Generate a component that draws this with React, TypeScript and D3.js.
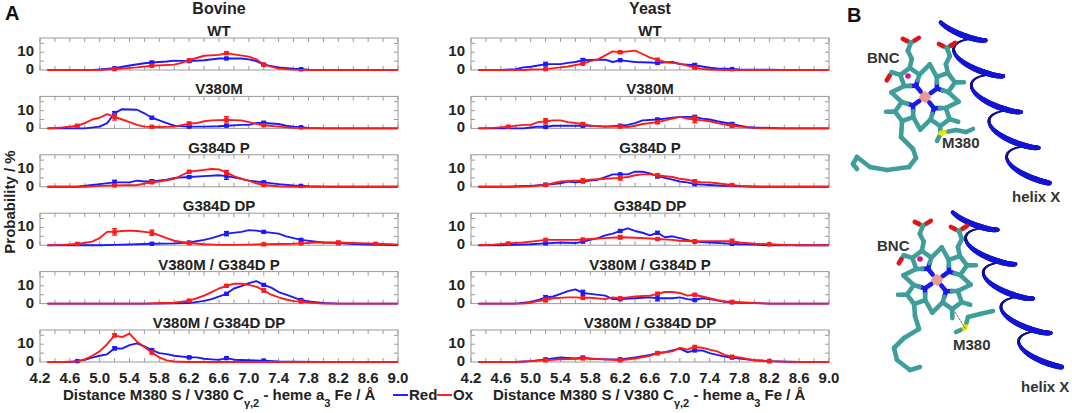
import React from 'react';
import * as d3 from 'd3';

type Pt = [number, number];

// axis ticks and labels
const distTicks = [4.2, 4.6, 5.0, 5.4, 5.8, 6.2, 6.6, 7.0, 7.4, 7.8, 8.2, 8.6, 9.0];
const probTicks = [0, 10];
const markerX = [4.7, 5.2, 5.7, 6.2, 6.7, 7.2, 7.7, 8.2, 8.7];
const panelTitles = ['WT', 'V380M', 'G384D P', 'G384D DP', 'V380M / G384D P', 'V380M / G384D DP'];
const columnTitles = ['Bovine', 'Yeast'];
const seriesNames = ['Red', 'Ox'];

// ---- Bovine: distance (Å) -> probability (%) ----
const bovWtRed: Pt[] = [[4.3,0],[4.9,0],[5.0,0.3],[5.2,1],[5.4,2.5],[5.6,3.8],[5.7,4.2],[5.9,4.8],[6.0,5.3],[6.2,5],[6.4,5.5],[6.6,6.5],[6.7,6.5],[6.9,6.5],[7.0,6],[7.1,5],[7.2,3],[7.4,1.5],[7.6,0.7],[7.8,0.2],[8.0,0],[9.0,0]];
const bovWtOx: Pt[] = [[4.3,0],[5.0,0],[5.2,0.5],[5.5,1.5],[5.7,2.4],[6.0,3],[6.1,4],[6.2,5.5],[6.4,8],[6.6,8.5],[6.7,9.5],[6.8,8.8],[7.0,7.5],[7.1,6],[7.2,3],[7.4,0.8],[7.6,0.2],[7.8,0],[9.0,0]];
const bovV380MRed: Pt[] = [[4.3,0],[4.8,0],[5.0,1],[5.1,3],[5.2,8.5],[5.3,10.8],[5.5,10.5],[5.6,8.5],[5.7,6],[5.8,4.5],[5.9,3],[6.0,1.5],[6.2,1],[6.4,1],[6.6,1.2],[6.7,1.5],[6.9,2],[7.0,2],[7.1,3],[7.2,3],[7.4,2.5],[7.5,1.5],[7.6,1],[7.8,0.3],[8.0,0],[9.0,0]];
const bovV380MOx: Pt[] = [[4.3,0],[4.5,0.5],[4.7,1.5],[4.8,3],[4.9,5],[5.0,6],[5.1,8],[5.2,6.5],[5.3,5],[5.4,3.5],[5.5,2],[5.6,1],[5.8,0.8],[6.0,1],[6.2,2.7],[6.3,3],[6.4,4],[6.5,4.5],[6.7,4.8],[6.9,4.5],[7.0,3.5],[7.2,1.8],[7.4,1],[7.6,0.3],[7.8,0],[9.0,0]];
const bovG384DPRed: Pt[] = [[4.3,0],[4.7,0],[4.9,1],[5.0,1.5],[5.2,2.5],[5.4,2.5],[5.5,3.5],[5.6,3],[5.7,3],[5.9,4],[6.0,5],[6.2,5.5],[6.4,6],[6.6,6.5],[6.7,6],[6.9,4.5],[7.0,3.5],[7.2,2.5],[7.4,1.5],[7.6,0.7],[7.8,0.3],[8.0,0.1],[8.2,0],[9.0,0]];
const bovG384DPOx: Pt[] = [[4.3,0],[4.8,0],[5.0,0.5],[5.2,0.8],[5.5,1],[5.7,2.5],[5.8,3],[6.0,4.5],[6.1,6.5],[6.2,8.5],[6.4,9.5],[6.5,10],[6.6,9.8],[6.7,8],[6.8,6],[6.9,4.5],[7.0,3.5],[7.1,2],[7.2,1],[7.4,0.3],[7.6,0],[9.0,0]];
const bovG384DDPRed: Pt[] = [[4.3,0],[5.0,0],[5.2,0.2],[5.5,0.5],[5.7,0.8],[6.0,1],[6.2,1.5],[6.4,3],[6.5,4],[6.7,6.5],[6.9,7.5],[7.0,8.5],[7.1,8.2],[7.2,7.5],[7.4,6.5],[7.5,5],[7.7,3],[7.9,2],[8.0,1.5],[8.2,1.2],[8.4,0.7],[8.6,0.4],[8.8,0.2],[9.0,0]];
const bovG384DDPOx: Pt[] = [[4.3,0],[4.5,0.2],[4.7,0.7],[4.9,2],[5.0,4],[5.1,7.5],[5.2,7.5],[5.3,8],[5.4,8.2],[5.5,8],[5.6,7.5],[5.7,7],[5.8,5.5],[5.9,4],[6.0,2.5],[6.2,1.2],[6.4,0.5],[6.6,0.2],[6.8,0.2],[7.0,0.3],[7.2,0.5],[7.4,0.7],[7.6,0.8],[7.7,1],[7.9,1.5],[8.2,1.5],[8.4,1.2],[8.6,1],[8.7,0.8],[8.9,0.5],[9.0,0.3]];
const bovDblPRed: Pt[] = [[4.3,0],[5.8,0],[6.0,0.1],[6.2,0.3],[6.4,1.5],[6.5,2.5],[6.7,5.5],[6.8,8.5],[6.9,9.8],[7.0,11.5],[7.1,12.6],[7.2,10.5],[7.3,9],[7.4,6.5],[7.5,5],[7.6,3.5],[7.7,2],[7.8,1.2],[8.0,0.3],[8.2,0],[9.0,0]];
const bovDblPOx: Pt[] = [[4.3,0],[5.6,0],[5.8,0.3],[6.0,0.5],[6.2,1.7],[6.3,3],[6.4,4.5],[6.5,6.5],[6.6,8.5],[6.7,10],[6.8,11.2],[6.9,11.2],[7.0,10.5],[7.1,9.5],[7.2,7.4],[7.3,5],[7.4,3.5],[7.5,2.3],[7.6,1.4],[7.7,1.2],[7.8,0.6],[8.0,0],[9.0,0]];
const bovDblDPRed: Pt[] = [[4.3,0],[4.6,0],[4.7,0.5],[4.8,1.2],[4.9,2.5],[5.0,3.5],[5.1,4.3],[5.2,7.7],[5.3,7.5],[5.4,9.5],[5.5,10.5],[5.6,8.8],[5.7,6.7],[5.8,5],[5.9,4.4],[6.0,3.5],[6.2,2.6],[6.3,2.6],[6.4,1.8],[6.5,1.5],[6.6,1.2],[6.7,2.2],[6.8,1.3],[7.0,1],[7.2,0.8],[7.4,0.3],[7.6,0.2],[8.0,0],[9.0,0]];
const bovDblDPOx: Pt[] = [[4.3,0],[4.5,0],[4.7,0.3],[4.8,1.5],[4.9,3.5],[5.0,6],[5.1,10],[5.2,15],[5.3,14],[5.4,16],[5.5,11.4],[5.6,8.5],[5.7,5.3],[5.8,2.6],[5.9,0.9],[6.0,0.3],[6.2,0],[9.0,0]];

// ---- Yeast ----
const yWtRed: Pt[] = [[4.3,0],[4.6,0],[4.8,0.5],[4.9,1.5],[5.0,1.8],[5.1,2.5],[5.2,3.3],[5.4,3.3],[5.5,4],[5.6,4.5],[5.7,5.5],[5.9,5.8],[6.0,5.8],[6.1,4.5],[6.2,5.5],[6.3,5],[6.4,4.5],[6.6,4.2],[6.7,4],[6.9,4.5],[7.0,3.3],[7.2,2.7],[7.4,1.3],[7.5,0.9],[7.6,0.7],[7.8,0.3],[8.0,0.2],[8.2,0.2],[8.4,0],[9.0,0]];
const yWtOx: Pt[] = [[4.3,0],[4.9,0],[5.0,0.3],[5.2,0.5],[5.4,1.5],[5.5,2],[5.7,3.6],[5.8,5],[5.9,6],[6.0,8.2],[6.1,10.5],[6.2,10],[6.3,10.5],[6.4,10.9],[6.5,9],[6.6,7],[6.7,5.8],[6.8,4.5],[6.9,4],[7.0,3.6],[7.1,2.5],[7.2,1.3],[7.3,0.6],[7.4,0.3],[7.6,0],[9.0,0]];
const yV380MRed: Pt[] = [[4.3,0],[4.9,0],[5.0,0.5],[5.1,1],[5.2,0.8],[5.3,1.5],[5.4,1.5],[5.6,1.5],[5.7,1.5],[5.8,1.5],[6.0,1],[6.2,1.5],[6.3,2],[6.4,3],[6.5,4.5],[6.7,5],[6.8,5.5],[6.9,6],[7.0,6.5],[7.1,6.5],[7.2,6.5],[7.3,5.5],[7.4,5],[7.5,4],[7.7,2.5],[7.8,1.5],[7.9,0.8],[8.0,0.5],[8.2,0.2],[8.4,0],[9.0,0]];
const yV380MOx: Pt[] = [[4.3,0],[4.5,0.3],[4.7,1],[4.9,2],[5.0,2],[5.1,3.5],[5.2,4],[5.3,4.5],[5.4,4.5],[5.5,3.5],[5.7,2.5],[5.8,1.5],[6.0,1],[6.2,1],[6.3,0.8],[6.4,1.5],[6.5,2.5],[6.7,3.5],[6.8,4.5],[6.9,5.5],[7.0,6.5],[7.1,5.5],[7.2,5],[7.3,4.5],[7.4,4],[7.5,3],[7.7,1.5],[7.8,1],[8.0,0.3],[8.2,0],[9.0,0]];
const yG384DPRed: Pt[] = [[4.3,0],[4.7,0],[4.9,0.5],[5.0,0.5],[5.2,1.2],[5.3,1.5],[5.4,2],[5.5,3],[5.6,2.5],[5.7,3],[5.8,3.5],[5.9,4],[6.0,5.5],[6.1,7],[6.2,7],[6.3,7],[6.4,8.5],[6.5,8.5],[6.6,7.5],[6.7,6],[6.8,5],[6.9,4],[7.0,3],[7.1,2.5],[7.2,1.5],[7.4,1],[7.6,0.5],[7.8,0.3],[8.0,0],[9.0,0]];
const yG384DPOx: Pt[] = [[4.3,0],[4.8,0],[5.0,0.3],[5.2,1],[5.3,2],[5.4,3],[5.6,3.5],[5.7,3.5],[5.8,4],[6.0,4.5],[6.2,5],[6.3,5.5],[6.4,6.5],[6.5,7],[6.6,7],[6.7,6.5],[6.8,6],[6.9,5.5],[7.0,4.5],[7.1,4],[7.2,3],[7.3,2.5],[7.4,2.5],[7.5,2],[7.6,1.5],[7.7,1],[7.8,0.5],[8.0,0.2],[8.2,0],[9.0,0]];
const yG384DDPRed: Pt[] = [[4.3,0],[4.6,0],[4.8,0.2],[5.0,0.5],[5.2,1],[5.4,1.5],[5.6,1.2],[5.7,2],[5.8,3],[5.9,4],[6.0,5.5],[6.1,6.5],[6.2,8],[6.3,9.5],[6.4,8],[6.5,7],[6.6,5.5],[6.7,7],[6.8,4.5],[6.9,5],[7.0,4],[7.1,3],[7.2,2],[7.4,1.5],[7.6,1],[7.8,0.5],[8.0,0.3],[8.2,0],[9.0,0]];
const yG384DDPOx: Pt[] = [[4.3,0],[4.5,0.3],[4.7,1],[4.9,1.5],[5.0,2],[5.2,3],[5.4,3],[5.6,3],[5.7,3.2],[5.8,3.5],[6.0,4],[6.2,4.5],[6.4,4.2],[6.6,3.8],[6.7,3.5],[6.9,3],[7.0,2.5],[7.2,2.2],[7.4,2.3],[7.6,2.3],[7.7,2.2],[7.8,1.5],[8.0,0.8],[8.2,0.5],[8.4,0.2],[8.6,0],[9.0,0]];
const yDblPRed: Pt[] = [[4.3,0],[4.8,0],[5.0,1],[5.1,2],[5.2,3.5],[5.3,4],[5.4,5.5],[5.5,7],[5.6,8],[5.7,6],[5.8,5.5],[6.0,4.5],[6.1,2.5],[6.2,2.5],[6.4,3],[6.6,3.5],[6.7,3],[6.9,3],[7.0,3.5],[7.1,2.5],[7.2,2],[7.3,3],[7.4,2.5],[7.5,1.8],[7.6,1],[7.8,0.5],[8.0,0.3],[8.2,0],[9.0,0]];
const yDblPOx: Pt[] = [[4.3,0],[4.9,0],[5.0,0.5],[5.1,1.5],[5.2,2],[5.3,3],[5.5,3.5],[5.6,3.5],[5.7,3.2],[5.8,3.3],[6.0,2.5],[6.1,3.5],[6.2,3],[6.3,3.5],[6.4,4],[6.6,4.5],[6.7,5.5],[6.8,6.5],[6.9,6.5],[7.0,6],[7.1,4.5],[7.2,5],[7.3,4],[7.4,3],[7.5,2],[7.6,1.2],[7.8,0.8],[8.0,0.3],[8.2,0],[9.0,0]];
const yDblDPRed: Pt[] = [[4.3,0],[4.8,0],[5.0,0.5],[5.2,1.5],[5.4,2.5],[5.6,2],[5.7,2.5],[5.8,1.8],[6.0,1.5],[6.2,1.5],[6.4,2.5],[6.6,4],[6.7,5],[6.8,5.5],[6.9,6.5],[7.0,7.5],[7.1,5.5],[7.2,6.5],[7.3,6.5],[7.4,5],[7.5,4],[7.6,3],[7.7,2.5],[7.8,2],[8.0,1],[8.2,0.5],[8.4,0.2],[8.6,0],[9.0,0]];
const yDblDPOx: Pt[] = [[4.3,0],[4.8,0],[5.0,0.5],[5.2,1],[5.4,1.5],[5.6,1.8],[5.7,2],[5.8,2],[6.0,1.5],[6.2,1],[6.4,2],[6.6,3.5],[6.7,5],[6.8,5.5],[6.9,6],[7.0,8],[7.1,7],[7.2,8.5],[7.3,8],[7.4,7],[7.5,6],[7.6,4],[7.7,3],[7.8,2.5],[8.0,1],[8.2,0.5],[8.4,0.2],[8.6,0],[9.0,0]];

// error bar half-heights at markerX
const bovWtRedErr = [0.3, 0.3, 0.6, 0.6, 0.5, 0.5, 0.3, 0.3, 0.3];
const bovWtOxErr = [0.3, 0.3, 0.4, 0.6, 0.6, 0.5, 0.3, 0.3, 0.3];
const bovV380MRedErr = [0.3, 1, 0.5, 0.4, 0.4, 1, 0.3, 0.3, 0.3];
const bovV380MOxErr = [0.6, 1.8, 0.4, 0.8, 1.8, 0.5, 0.3, 0.3, 0.3];
const bovG384DPRedErr = [0.3, 1.2, 1, 0.6, 1.8, 0.6, 0.3, 0.3, 0.3];
const bovG384DPOxErr = [0.3, 0.3, 0.5, 0.6, 1.2, 0.4, 0.3, 0.3, 0.3];
const bovG384DDPRedErr = [0.3, 0.3, 0.3, 0.4, 1.2, 0.5, 0.7, 0.4, 0.3];
const bovG384DDPOxErr = [0.4, 1.8, 1.5, 0.5, 0.3, 0.3, 0.5, 0.7, 0.4];
const bovDblPRedErr = [0.3, 0.3, 0.3, 0.3, 0.6, 0.5, 0.5, 0.3, 0.3];
const bovDblPOxErr = [0.3, 0.3, 0.3, 0.5, 0.7, 0.8, 0.4, 0.3, 0.3];
const bovDblDPRedErr = [0.3, 0.8, 0.7, 0.6, 0.6, 0.4, 0.3, 0.3, 0.3];
const bovDblDPOxErr = [0.3, 0.8, 0.7, 0.3, 0.3, 0.3, 0.3, 0.3, 0.3];
const yWtRedErr = [0.3, 1, 1, 0.4, 0.6, 1, 0.3, 0.3, 0.3];
const yWtOxErr = [0.3, 0.3, 0.8, 0.5, 0.6, 0.4, 0.3, 0.3, 0.3];
const yV380MRedErr = [0.3, 0.4, 0.5, 0.4, 0.6, 0.5, 0.6, 0.3, 0.3];
const yV380MOxErr = [0.4, 1.5, 0.6, 0.4, 0.8, 1.8, 0.8, 0.3, 0.3];
const yG384DPRedErr = [0.3, 0.5, 0.4, 0.4, 1, 0.4, 0.3, 0.3, 0.3];
const yG384DPOxErr = [0.3, 0.4, 1, 1.2, 0.5, 1, 0.5, 0.3, 0.3];
const yG384DDPRedErr = [0.3, 0.4, 0.4, 0.5, 0.6, 0.4, 0.3, 0.3, 0.3];
const yG384DDPOxErr = [0.4, 0.6, 0.5, 1, 0.5, 0.6, 1.2, 0.4, 0.3];
const yDblPRedErr = [0.3, 1, 1.5, 0.5, 1.5, 0.5, 0.3, 0.3, 0.3];
const yDblPOxErr = [0.3, 1, 0.4, 0.4, 0.8, 0.6, 0.3, 0.3, 0.3];
const yDblDPRedErr = [0.3, 0.4, 0.5, 0.4, 0.4, 0.4, 0.4, 0.3, 0.3];
const yDblDPOxErr = [0.3, 0.4, 0.4, 0.5, 0.4, 0.4, 0.5, 0.3, 0.3];

interface PanelData { red: Pt[]; redErr: number[]; ox: Pt[]; oxErr: number[] }

const bovinePanels: PanelData[] = [
  { red: bovWtRed, redErr: bovWtRedErr, ox: bovWtOx, oxErr: bovWtOxErr },
  { red: bovV380MRed, redErr: bovV380MRedErr, ox: bovV380MOx, oxErr: bovV380MOxErr },
  { red: bovG384DPRed, redErr: bovG384DPRedErr, ox: bovG384DPOx, oxErr: bovG384DPOxErr },
  { red: bovG384DDPRed, redErr: bovG384DDPRedErr, ox: bovG384DDPOx, oxErr: bovG384DDPOxErr },
  { red: bovDblPRed, redErr: bovDblPRedErr, ox: bovDblPOx, oxErr: bovDblPOxErr },
  { red: bovDblDPRed, redErr: bovDblDPRedErr, ox: bovDblDPOx, oxErr: bovDblDPOxErr },
];
const yeastPanels: PanelData[] = [
  { red: yWtRed, redErr: yWtRedErr, ox: yWtOx, oxErr: yWtOxErr },
  { red: yV380MRed, redErr: yV380MRedErr, ox: yV380MOx, oxErr: yV380MOxErr },
  { red: yG384DPRed, redErr: yG384DPRedErr, ox: yG384DPOx, oxErr: yG384DPOxErr },
  { red: yG384DDPRed, redErr: yG384DDPRedErr, ox: yG384DDPOx, oxErr: yG384DDPOxErr },
  { red: yDblPRed, redErr: yDblPRedErr, ox: yDblPOx, oxErr: yDblPOxErr },
  { red: yDblDPRed, redErr: yDblDPRedErr, ox: yDblDPOx, oxErr: yDblDPOxErr },
];

const FONT = '"Liberation Sans", Arial, Helvetica, sans-serif';
const BLUE = '#1a1aff';
const RED = '#ff1a1a';
const TXT = '#222';

const colX = [40, 471];
const plotW = 358;
const plotH = 32;
const firstZero = 70;
const rowStep = 58.4;

const valAt = (pts: Pt[], x: number) => {
  for (let i = 0; i < pts.length - 1; i++) {
    const [x0, y0] = pts[i];
    const [x1, y1] = pts[i + 1];
    if (x >= x0 - 1e-9 && x <= x1 + 1e-9) return y0 + ((y1 - y0) * (x - x0)) / (x1 - x0);
  }
  return 0;
};

const Panel = ({ data, x0, zero, title, showTicks }: { data: PanelData; x0: number; zero: number; title: string; showTicks: boolean }) => {
  const x = d3.scaleLinear().domain([4.2, 9.0]).range([x0, x0 + plotW]);
  const y = d3.scaleLinear().domain([0, 18]).range([zero, zero - plotH]);
  const line = d3.line<Pt>().x(d => x(d[0])).y(d => y(d[1]));
  const top = y(18);
  const minor = d3.range(4.2, 9.001, 0.2);

  const markers = (pts: Pt[], errs: number[], color: string) =>
    markerX.map((mx, i) => {
      const v = valAt(pts, mx);
      if (v < 0.4) return null;
      const e = errs[i];
      const cx = x(mx);
      return (
        <g key={i} stroke={color} fill={color}>
          <line x1={cx} x2={cx} y1={y(v - e)} y2={y(v + e)} strokeWidth={1.3} />
          <line x1={cx - 2.5} x2={cx + 2.5} y1={y(v - e)} y2={y(v - e)} strokeWidth={1.3} />
          <line x1={cx - 2.5} x2={cx + 2.5} y1={y(v + e)} y2={y(v + e)} strokeWidth={1.3} />
          <rect x={cx - 2.2} y={y(v) - 2.2} width={4.4} height={4.4} stroke="none" />
        </g>
      );
    });

  return (
    <g>
      <text x={x0 + plotW / 2} y={top - 2} textAnchor="middle" fontSize={15} fontWeight="bold" fill={TXT}>{title}</text>
      <rect x={x0} y={top} width={plotW} height={plotH} fill="none" stroke="#9a9a9a" strokeWidth={1} />
      <g stroke="#9a9a9a" strokeWidth={1}>
        {minor.map((t, i) => (
          <g key={i}>
            <line x1={x(t)} x2={x(t)} y1={top} y2={top + 4} />
            <line x1={x(t)} x2={x(t)} y1={zero} y2={zero - 4} />
          </g>
        ))}
        {[5, 10, 15].map(t => (
          <g key={t}>
            <line x1={x0} x2={x0 + 4} y1={y(t)} y2={y(t)} />
            <line x1={x0 + plotW} x2={x0 + plotW - 4} y1={y(t)} y2={y(t)} />
          </g>
        ))}
      </g>
      {probTicks.map(t => (
        <text key={t} x={x0 - 6} y={y(t) + 4} textAnchor="end" fontSize={15} fontWeight="bold" fill={TXT}>{t}</text>
      ))}
      <path d={line(data.red) || ''} fill="none" stroke={BLUE} strokeWidth={1.9} strokeLinejoin="round" />
      {markers(data.red, data.redErr, BLUE)}
      <path d={line(data.ox) || ''} fill="none" stroke={RED} strokeWidth={1.9} strokeLinejoin="round" />
      {markers(data.ox, data.oxErr, RED)}
      {showTicks && distTicks.map(t => (
        <text key={t} x={x(t)} y={383} textAnchor="middle" fontSize={15} fontWeight="bold" fill={TXT}>{t.toFixed(1)}</text>
      ))}
    </g>
  );
};

const XLabel = ({ x0 }: { x0: number }) => (
  <text x={x0} y={400} fontSize={15} fontWeight="bold" fill={TXT}>
    Distance M380 S / V380 C<tspan dy={7} fontSize={11}>γ,2</tspan>
    <tspan dy={-7}> - heme a</tspan><tspan dy={7} fontSize={11}>3</tspan>
    <tspan dy={-7}> Fe / Å</tspan>
  </text>
);

// ---------- panel B: schematic heme + helix ----------
const TEAL = '#3f9e9b';
const NBLUE = '#1a1ae6';
const OXRED = '#e01515';

type Bond = { a: Pt; b: Pt; c: string; w?: number; dash?: boolean };

const hemeBonds = (tail: Pt[], met: Pt[], s: Pt, methyl: Pt, dashFrom: Pt | null) => {
  const bonds: Bond[] = [];
  const add = (a: Pt, b: Pt, c = TEAL) => bonds.push({ a, b, c });
  const half = (a: Pt, b: Pt, c1: string, c2: string) => {
    const m: Pt = [(a[0] + b[0]) / 2, (a[1] + b[1]) / 2];
    add(a, m, c1);
    add(m, b, c2);
  };
  const rot = (8 * Math.PI) / 180;
  const pyr: { C: Pt; V: Pt[] }[] = [];
  for (let k = 0; k < 4; k++) {
    const a = rot + ((-135 + 90 * k) * Math.PI) / 180;
    const C: Pt = [25 * Math.cos(a), 24 * Math.sin(a)];
    const V: Pt[] = d3.range(5).map(j => [
      C[0] + 10 * Math.cos(a + Math.PI + (j * 2 * Math.PI) / 5),
      C[1] + 10 * Math.sin(a + Math.PI + (j * 2 * Math.PI) / 5),
    ] as Pt);
    pyr.push({ C, V });
    half(V[0], V[1], NBLUE, TEAL);
    half(V[0], V[4], NBLUE, TEAL);
    add(V[1], V[2]);
    add(V[2], V[3]);
    add(V[3], V[4]);
    half([0, 0], V[0], '#e89a96', NBLUE);
  }
  for (let k = 0; k < 4; k++) {
    const a = rot + ((-90 + 90 * k) * Math.PI) / 180;
    const m: Pt = [34 * Math.cos(a), 33 * Math.sin(a)];
    const p1 = pyr[k].V, p2 = pyr[(k + 1) % 4].V;
    const near = (V: Pt[]) => [V[1], V[4]].sort((u, v) => Math.hypot(u[0] - m[0], u[1] - m[1]) - Math.hypot(v[0] - m[0], v[1] - m[1]))[0];
    add(near(p1), m);
    add(m, near(p2));
  }
  const stub = (p: { C: Pt; V: Pt[] }, j: number, len: number): Pt => {
    const b = p.V[j];
    const dx = b[0] - p.C[0], dy = b[1] - p.C[1];
    const l = Math.hypot(dx, dy);
    return [b[0] + (dx / l) * len, b[1] + (dy / l) * len];
  };
  // propionates
  [[pyr[0].V[3], -1], [pyr[1].V[2], 1]].forEach(([st, sg]) => {
    const p = st as Pt;
    const g = sg as number;
    const c1: Pt = [p[0] - 2 * g, p[1] - 9];
    const c2: Pt = [p[0] + 2 * g, p[1] - 17];
    const c3: Pt = [p[0] - 1 * g, p[1] - 25];
    add(p, c1); add(c1, c2); add(c2, c3);
    half(c3, [c3[0] - 8, c3[1] - 4], TEAL, OXRED);
    half(c3, [c3[0] + 8, c3[1] - 5], TEAL, OXRED);
  });
  // formyl
  const f1 = stub(pyr[0], 2, 9);
  add(pyr[0].V[2], f1);
  half(f1, [f1[0] - 5, f1[1] + 8], TEAL, OXRED);
  // methyls / vinyl
  add(pyr[1].V[3], stub(pyr[1], 3, 9));
  add(pyr[2].V[2], stub(pyr[2], 2, 9));
  add(pyr[2].V[3], stub(pyr[2], 3, 9));
  add(pyr[3].V[3], stub(pyr[3], 3, 9));
  // farnesyl tail
  const tp: Pt[] = [pyr[3].V[2], ...tail];
  for (let i = 0; i < tp.length - 1; i++) add(tp[i], tp[i + 1]);
  // methionine
  half(s, methyl, '#e6e600', TEAL);
  const mp: Pt[] = [s, ...met];
  half(mp[0], mp[1], '#e6e600', TEAL);
  for (let i = 1; i < mp.length - 1; i++) add(mp[i], mp[i + 1]);
  if (dashFrom) bonds.push({ a: dashFrom, b: s, c: '#444', w: 0.8, dash: true });
  return bonds;
};

const Heme = ({ fx, fy, tail, met, s, methyl, dashFrom }: { fx: number; fy: number; tail: Pt[]; met: Pt[]; s: Pt; methyl: Pt; dashFrom: Pt | null }) => {
  const bonds = hemeBonds(tail, met, s, methyl, dashFrom);
  return (
    <g transform={`translate(${fx},${fy})`} strokeLinecap="round" strokeLinejoin="round">
      {bonds.map((b, i) => (
        <line key={i} x1={b.a[0]} y1={b.a[1]} x2={b.b[0]} y2={b.b[1]} stroke={b.c} strokeWidth={b.w ?? 4.6} strokeDasharray={b.dash ? '2 1.5' : undefined} />
      ))}
      <rect x={-4.5} y={-4.5} width={9} height={9} fill="#e89a96" transform="rotate(45)" />
      <circle cx={-17} cy={-21} r={2.8} fill="#d4148c" />
    </g>
  );
};

const Helix = ({ a, b, turns, amp, phase }: { a: Pt; b: Pt; turns: number; amp: number; phase: number }) => {
  const n = 360;
  const dx = b[0] - a[0], dy = b[1] - a[1];
  const L = Math.hypot(dx, dy);
  const ux = dx / L, uy = dy / L;
  const pts = d3.range(n + 1).map(i => {
    const t = i / n;
    const ang = phase + 2 * Math.PI * turns * t;
    return {
      x: a[0] + dx * t + amp * Math.sin(ang) + ux * 8 * Math.cos(ang),
      y: a[1] + dy * t + amp * 0.12 * Math.sin(ang) + uy * 8 * Math.cos(ang),
      d: Math.cos(ang),
    };
  });
  const segs = d3.range(n).map(i => ({ p: pts[i], q: pts[i + 1], d: (pts[i].d + pts[i + 1].d) / 2 }));
  const back = segs.filter(s => s.d <= 0);
  const front = segs.filter(s => s.d > 0);
  return (
    <g strokeLinecap="round">
      {back.map((s, i) => (
        <line key={'b' + i} x1={s.p.x} y1={s.p.y} x2={s.q.x} y2={s.q.y} stroke="#10108e" strokeWidth={1.8 + 1.5 * (1 + s.d)} />
      ))}
      {front.map((s, i) => (
        <line key={'f' + i} x1={s.p.x} y1={s.p.y} x2={s.q.x} y2={s.q.y} stroke="#1414d2" strokeWidth={3.2 + 2.6 * s.d} />
      ))}
    </g>
  );
};

const App = () => {
  const labelProps = { fontSize: 15, fontWeight: 'bold' as const, fill: '#333' };
  return (
    <svg width={1072} height={413} viewBox="0 0 1072 413" style={{ position: 'absolute', left: 0, top: 0, background: '#fff' }} fontFamily={FONT}>
      <rect width={1072} height={413} fill="#fff" />
      <text x={5} y={20} fontSize={20} fontWeight="bold" fill="#111">A</text>
      {columnTitles.map((t, i) => (
        <text key={t} x={colX[i] + plotW / 2} y={14} textAnchor="middle" fontSize={16} fontWeight="bold" fill={TXT}>{t}</text>
      ))}
      {[bovinePanels, yeastPanels].map((col, ci) =>
        col.map((p, ri) => (
          <Panel key={`${ci}-${ri}`} data={p} x0={colX[ci]} zero={firstZero + ri * rowStep} title={panelTitles[ri]} showTicks={ri === 5} />
        ))
      )}
      <text transform="translate(15,202) rotate(-90)" textAnchor="middle" fontSize={15} fontWeight="bold" fill={TXT}>Probability / %</text>
      <XLabel x0={63} />
      <XLabel x0={493} />
      <g>
        <line x1={393} x2={408} y1={395} y2={395} stroke={BLUE} strokeWidth={1.9} />
        <text x={409} y={400} fontSize={15} fontWeight="bold" fill={TXT}>{seriesNames[0]}</text>
        <line x1={437} x2={452} y1={395} y2={395} stroke={RED} strokeWidth={1.9} />
        <text x={453} y={400} fontSize={15} fontWeight="bold" fill={TXT}>{seriesNames[1]}</text>
      </g>

      {/* panel B */}
      <text x={847} y={22} fontSize={20} fontWeight="bold" fill="#111">B</text>
      <Helix a={[958, 22]} b={[1034, 176]} turns={4.3} amp={20} phase={-1.2} />
      <Heme fx={925} fy={97}
        tail={[[-24, 40], [-12, 52], [-9, 61], [-16, 70], [-38, 73], [-55, 70], [-68, 60], [-72, 67], [-68, 72]]}
        s={[16, 36]} methyl={[12, 44]} met={[[31, 33], [41, 35], [48, 32]]} dashFrom={null} />
      <text x={867} y={63} {...labelProps}>BNC</text>
      <text x={942} y={148} {...labelProps}>M380</text>
      <text x={1012} y={202} {...labelProps}>helix X</text>

      <Helix a={[970, 212]} b={[1046, 360]} turns={4.3} amp={20} phase={-1.2} />
      <Heme fx={937} fy={280}
        tail={[[-22, 36], [-18, 49], [-33, 58], [-43, 68], [-40, 80], [-27, 90], [-17, 87]]}
        s={[28, 48]} methyl={[19, 52]} met={[[31, 37], [43, 34], [56, 31]]} dashFrom={[18, 32]} />
      <text x={877} y={251} {...labelProps}>BNC</text>
      <text x={953} y={350} {...labelProps}>M380</text>
      <text x={1021} y={392} {...labelProps}>helix X</text>
    </svg>
  );
};

export default App;
